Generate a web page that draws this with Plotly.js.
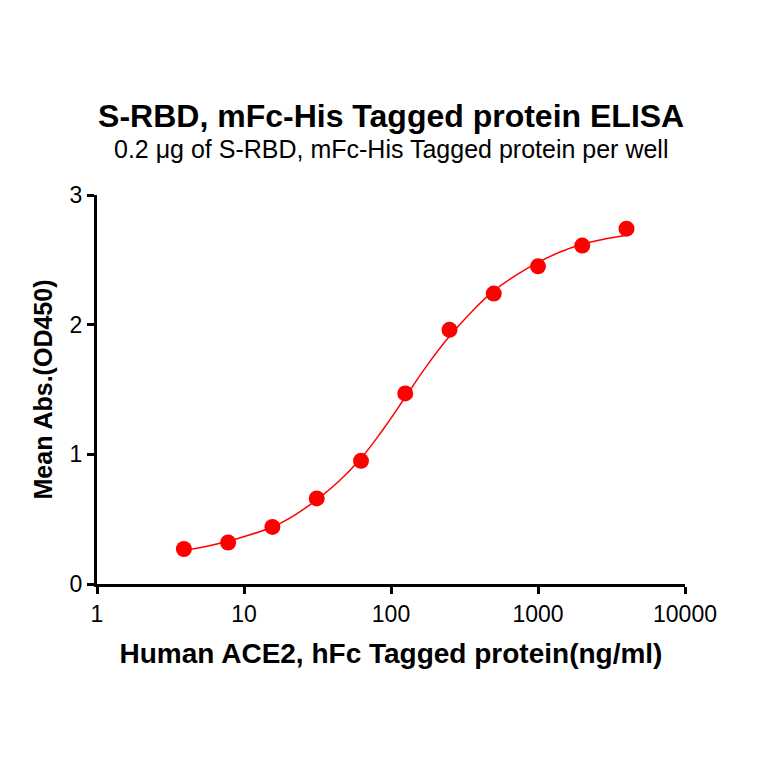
<!DOCTYPE html>
<html>
<head>
<meta charset="utf-8">
<script src="https://cdn.plot.ly/plotly-3.0.1.min.js"></script>
<style>
  body { margin: 0; background: #fff; }
  #chart { width: 764px; height: 764px; }
</style>
</head>
<body>
<div id="chart"></div>
<script>
// measured points
var dose = [3.9, 7.8, 15.6, 31.25, 62.5, 125, 250, 500, 1000, 2000, 4000];
var od450 = [0.27, 0.32, 0.44, 0.66, 0.95, 1.47, 1.96, 2.24, 2.45, 2.61, 2.74];

// fitted curve
var fitDose = [3.9, 5.5, 7.8, 11, 15.6, 22, 31.25, 44, 62.5, 88, 125, 177, 250, 354, 500, 707, 1000, 1414, 2000, 2828, 4000];
var fitOd = [0.26, 0.29, 0.33, 0.38, 0.44, 0.53, 0.65, 0.79, 0.97, 1.19, 1.44, 1.69, 1.91, 2.1, 2.26, 2.38, 2.48, 2.56, 2.62, 2.66, 2.69];

var xTicks = [1, 10, 100, 1000, 10000];
var xTickText = ["1", "10", "100", "1000", "10000"];

var red = "#ff0000";
var font = "Liberation Sans, Arial, sans-serif";

var data = [
  {
    x: fitDose, y: fitOd,
    type: "scatter", mode: "lines",
    line: { color: red, width: 1.5, shape: "spline", smoothing: 1.3 },
    hoverinfo: "skip"
  },
  {
    x: dose, y: od450,
    type: "scatter", mode: "markers",
    marker: { color: red, size: 16 },
    cliponaxis: false
  }
];

var layout = {
  width: 764, height: 764,
  margin: { l: 97, r: 79, t: 195, b: 180 },
  paper_bgcolor: "#fff", plot_bgcolor: "#fff",
  showlegend: false,
  font: { family: font, color: "#000" },
  title: {
    text: "<b>S-RBD, mFc-His Tagged protein ELISA</b>",
    font: { size: 32, family: font },
    x: 0.512, xanchor: "center",
    y: 0.849, yanchor: "middle"
  },
  annotations: [{
    text: "0.2 μg of S-RBD, mFc-His Tagged protein per well",
    xref: "paper", yref: "paper",
    x: 0.5, y: 1.118, xanchor: "center", yanchor: "middle",
    showarrow: false,
    font: { size: 25, family: font }
  }],
  xaxis: {
    type: "log", range: [0, 4],
    tickvals: xTicks, ticktext: xTickText,
    showline: true, linecolor: "#000", linewidth: 3,
    ticks: "outside", ticklen: 7, tickwidth: 3, tickcolor: "#000",
    showgrid: false, zeroline: false,
    tickfont: { size: 23 },
    title: { text: "<b>Human ACE2, hFc Tagged protein(ng/ml)</b>", font: { size: 28 }, standoff: 18 }
  },
  yaxis: {
    range: [0, 3], dtick: 1,
    showline: true, linecolor: "#000", linewidth: 3,
    ticks: "outside", ticklen: 7, tickwidth: 3, tickcolor: "#000",
    showgrid: false, zeroline: false,
    tickfont: { size: 23 },
    title: { text: "<b>Mean Abs.(OD450)</b>", font: { size: 25 }, standoff: 10 }
  }
};

Plotly.newPlot("chart", data, layout, { staticPlot: true });
</script>
</body>
</html>
